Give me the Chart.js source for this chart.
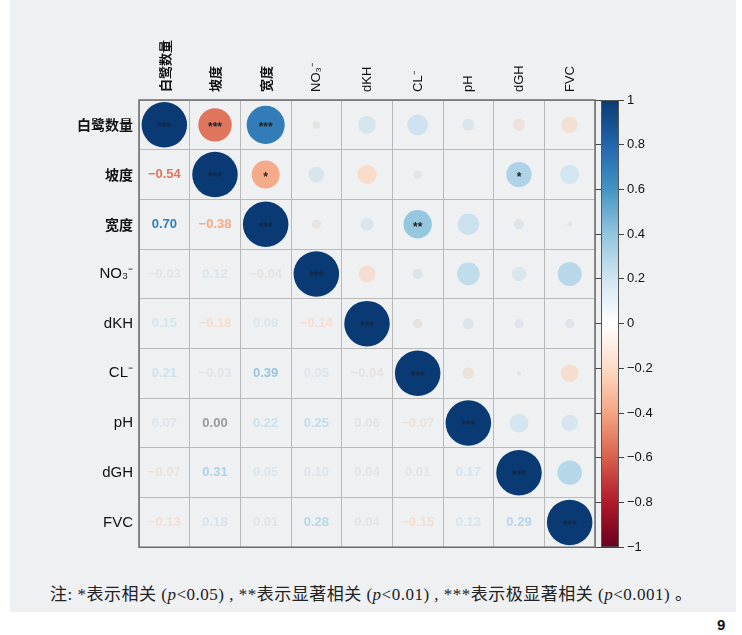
<!DOCTYPE html>
<html>
<head>
<meta charset="utf-8">
<script src="https://cdn.jsdelivr.net/npm/chart.js@4.4.1/dist/chart.umd.min.js"></script>
<style>
  body { margin: 0; background: #fff; width: 742px; height: 635px; overflow: hidden; position: relative; }
  .panel { position: absolute; left: 10px; top: 0; width: 726px; height: 612px; background: #eef0f2; }
  .plot { position: absolute; left: 0; top: 0; width: 742px; height: 570px; }
  .note { position: absolute; left: 50px; top: 580px; font: 17px "Liberation Serif", "Noto Sans CJK SC", serif; color: #222; white-space: nowrap; letter-spacing: 0.5px; }
  .note i { font-style: italic; }
  .page { position: absolute; left: 717px; top: 616px; font: bold 15px "Liberation Sans", Arial, sans-serif; color: #111; }
</style>
</head>
<body>
<div class="panel"></div>
<div class="plot"><canvas id="corrChart"></canvas></div>
<div class="note">注: *表示相关 (<i>p</i>&lt;0.05) , **表示显著相关 (<i>p</i>&lt;0.01) , ***表示极显著相关 (<i>p</i>&lt;0.001) 。</div>
<div class="page">9</div>
<script>
// Variables of the correlation matrix
const variables = ['白鹭数量', '坡度', '宽度', 'NO₃⁻', 'dKH', 'CL⁻', 'pH', 'dGH', 'FVC'];

// Lower triangle of the correlation matrix (row i, columns 0..i-1)
const corrLower = [
    [],
    [-0.54],
    [0.70, -0.38],
    [-0.03, 0.12, -0.04],
    [0.15, -0.18, 0.08, -0.14],
    [0.21, -0.03, 0.39, 0.05, -0.04],
    [0.07, 0.00, 0.22, 0.25, 0.06, -0.07],
    [-0.07, 0.31, 0.05, 0.10, 0.04, 0.01, 0.17],
    [-0.13, 0.18, 0.01, 0.28, 0.04, -0.15, 0.13, 0.29]
];

// Significance marks in the upper triangle: [row, col, stars]
const signif = [
    [0, 1, '***'], [0, 2, '***'], [1, 2, '*'], [1, 7, '*'], [2, 5, '**']
];

const colorbarTicks = [1, 0.8, 0.6, 0.4, 0.2, 0, -0.2, -0.4, -0.6, -0.8, -1];

// RdBu palette from -1 to 1
const palette = ['#67001F', '#B2182B', '#D6604D', '#F4A582', '#FDDBC7', '#FFFFFF',
                 '#D1E5F0', '#92C5DE', '#4393C3', '#2166AC', '#0A3A73'];
// same palette, but fading into a pale grey around zero
const markPalette = palette.map((c, i) => i === 5 ? '#E2E5E8' : c);

function hexToRgb(h) {
    return [parseInt(h.slice(1, 3), 16), parseInt(h.slice(3, 5), 16), parseInt(h.slice(5, 7), 16)];
}

function colorAt(pal, v) {
    const t = (Math.max(-1, Math.min(1, v)) + 1) / 2 * (pal.length - 1);
    const i = Math.min(Math.floor(t), pal.length - 2);
    const f = t - i;
    const a = hexToRgb(pal[i]), b = hexToRgb(pal[i + 1]);
    const c = a.map((x, k) => Math.round(x + (b[k] - x) * f));
    return `rgb(${c[0]}, ${c[1]}, ${c[2]})`;
}

const rdbu = v => colorAt(palette, v);
const markColor = v => colorAt(markPalette, v);

function fmt(v) {
    const s = Math.abs(v).toFixed(2);
    return v < 0 ? '\u2212' + s : s;
}

// Full symmetric matrix
const n = variables.length;
const corr = [];
for (let i = 0; i < n; i++) {
    corr.push([]);
    for (let j = 0; j < n; j++) {
        if (i === j) corr[i].push(1);
        else if (j < i) corr[i].push(corrLower[i][j]);
        else corr[i].push(corrLower[j][i]);
    }
}

const stars = {};
signif.forEach(([i, j, s]) => { stars[i + '-' + j] = s; });
for (let i = 0; i < n; i++) stars[i + '-' + i] = '***';

// Circles on the diagonal and the upper triangle
const bubbles = [];
for (let i = 0; i < n; i++) {
    for (let j = i; j < n; j++) {
        bubbles.push({ x: variables[j], y: variables[i], v: corr[i][j] });
    }
}

function cellSize(chart) {
    const a = chart.chartArea;
    return a ? (a.right - a.left) / n : 50;
}

const isCJK = s => /[\u4e00-\u9fff]/.test(s);

// Numbers, stars, frame and colour bar
const overlay = {
    id: 'overlay',
    afterDatasetsDraw(chart) {
        const c = chart.ctx, xs = chart.scales.x, ys = chart.scales.y;
        c.save();
        c.textAlign = 'center';
        c.textBaseline = 'middle';
        // lower triangle numbers
        c.font = 'bold 13px "Liberation Sans", Arial, sans-serif';
        for (let i = 1; i < n; i++) {
            for (let j = 0; j < i; j++) {
                const v = corr[i][j];
                c.fillStyle = v === 0 ? '#9a9a9a' : markColor(v);
                c.fillText(fmt(v), xs.getPixelForValue(j), ys.getPixelForValue(i));
            }
        }
        // significance stars
        c.font = 'bold 12px "Liberation Sans", Arial, sans-serif';
        Object.keys(stars).forEach(k => {
            const [i, j] = k.split('-').map(Number);
            c.fillStyle = i === j ? 'rgba(25, 35, 60, 0.85)' : '#222';
            c.fillText(stars[k], xs.getPixelForValue(j), ys.getPixelForValue(i) + 3);
        });
        // outer frame
        const a = chart.chartArea;
        c.strokeStyle = '#6b6b6b';
        c.lineWidth = 1.5;
        c.strokeRect(a.left, a.top, a.right - a.left, a.bottom - a.top);
        c.restore();
    },
    afterDraw(chart) {
        const c = chart.ctx, cb = chart.scales.cb;
        const x0 = cb.left + 6, w = 18;
        const g = c.createLinearGradient(0, cb.top, 0, cb.bottom);
        for (let k = 0; k <= 40; k++) {
            g.addColorStop(k / 40, rdbu(1 - k / 20));
        }
        c.save();
        c.fillStyle = g;
        c.fillRect(x0, cb.top, w, cb.bottom - cb.top);
        c.strokeStyle = '#555';
        c.lineWidth = 1;
        c.strokeRect(x0 + 0.5, cb.top + 0.5, w - 1, cb.bottom - cb.top - 1);
        c.restore();
    }
};

const ctx = document.getElementById('corrChart').getContext('2d');
const corrChart = new Chart(ctx, {
    type: 'bubble',
    data: {
        datasets: [{
            data: bubbles,
            backgroundColor: c => markColor(c.raw.v),
            borderWidth: 0,
            radius: c => cellSize(c.chart) * 0.455 * Math.sqrt(Math.abs(c.raw.v)),
            hoverRadius: 0
        }]
    },
    plugins: [overlay],
    options: {
        responsive: true,
        maintainAspectRatio: false,
        animation: false,
        events: [],
        layout: { padding: { left: 0, right: 70, top: 0, bottom: 18 } },
        plugins: { legend: { display: false }, tooltip: { enabled: false } },
        scales: {
            x: {
                type: 'category',
                labels: variables,
                position: 'top',
                offset: true,
                afterFit: s => { s.height = 100; },
                grid: { offset: true, color: '#b9b9b9', drawTicks: false },
                border: { display: false },
                ticks: {
                    minRotation: 90,
                    maxRotation: 90,
                    padding: 8,
                    labelOffset: 16,
                    color: '#111',
                    font: c => isCJK(variables[c.index] || '')
                        ? { family: '"Noto Sans CJK SC"', size: 13, weight: 'bold' }
                        : { family: '"Liberation Sans", Arial', size: 13 }
                }
            },
            y: {
                type: 'category',
                labels: variables,
                offset: true,
                afterFit: s => { s.width = 139; },
                grid: { offset: true, color: '#b9b9b9', drawTicks: false },
                border: { display: false },
                ticks: {
                    padding: 6,
                    color: '#111',
                    font: c => isCJK(variables[c.index] || '')
                        ? { family: '"Noto Sans CJK SC"', size: 14, weight: 'bold' }
                        : { family: '"Liberation Sans", Arial', size: 15 }
                }
            },
            cb: {
                type: 'linear',
                position: 'right',
                min: -1,
                max: 1,
                afterFit: s => { s.width = 77; },
                afterBuildTicks: s => { s.ticks = colorbarTicks.map(v => ({ value: v })); },
                grid: { drawOnChartArea: false, tickLength: 29, color: '#444' },
                border: { display: false },
                ticks: {
                    padding: 3,
                    color: '#111',
                    font: { family: '"Liberation Sans", Arial', size: 13 },
                    callback: v => v < 0 ? '\u2212' + Math.abs(v) : String(v)
                }
            }
        }
    }
});
</script>
</body>
</html>
